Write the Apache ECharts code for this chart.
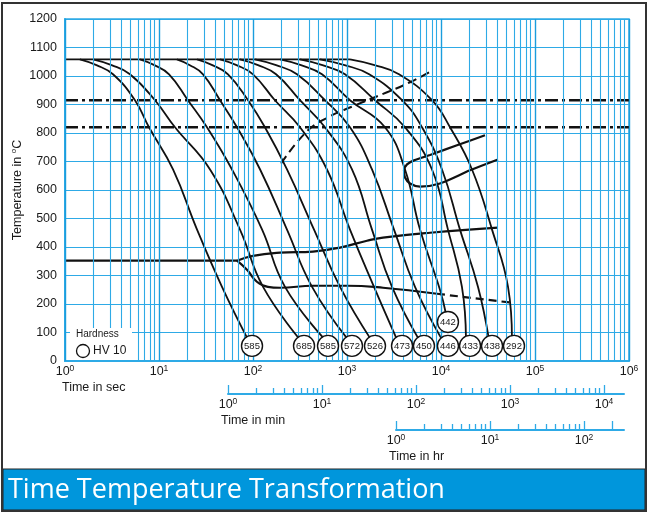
<!DOCTYPE html>
<html><head><meta charset="utf-8">
<script src="https://cdn.jsdelivr.net/npm/echarts@6/dist/echarts.min.js"></script>
<style>html,body{margin:0;padding:0;background:#fff;}#c{width:650px;height:515px;}</style>
</head><body><div id="c"></div>
<script>
const FONT = '"Liberation Sans", Arial, Helvetica, sans-serif';
const TXT = '#1a1a1a';
const BLUE = '#2eaae6';
const BLUE_MAJOR = '#1a9ddd';

// ---- axis tick values ----
const secDecades = [1, 10, 100, 1000, 10000, 100000, 1000000];
const gridMultipliers = [2, 3, 4, 5, 6, 7, 8, 9];
const minMajor = [1, 10, 100, 1000, 10000];
const minMinor = [2,3,4,5,6,7,8,9,20,30,40,50,60,70,80,90,200,300,400,500,600,700,800,900,2000,3000,4000,5000,6000,7000,8000,9000];
const hrMajor = [1, 10, 100, 200];
const hrLabels = [1, 10, 100];
const hrMinor = [2,3,4,5,6,7,8,9,20,30,40,50,60,70,80,90];
const minAxisMax = 16326;   // right end of the min scale
const hrAxisMax = 266.4;    // right end of the hr scale

// ---- data: [time in s, temperature in °C] ----
const austenitizing = [[1,1058],[1076,1058]];
const curve585a = [[1.44,1058],[2.16,1038],[3.24,1006],[5.55,915],[7.83,820],[14.1,672],[25.4,461],[46.8,260],[88.5,75]];
const curve685  = [[1.99,1058],[3.13,1038],[4.91,1006],[9.06,915],[14.8,820],[34.9,672],[72.7,461],[128,260],[316,75]];
const curve585b = [[6.28,1058],[8.93,1038],[12.8,1006],[20.3,915],[32.4,820],[59.8,672],[125,461],[219,260],[583,75]];
const curve572  = [[15.5,1058],[21.3,1038],[29.4,1006],[44.6,915],[67.6,820],[119,672],[230,461],[425,260],[1026,75]];
const curve526  = [[25.4,1058],[36.9,1038],[54.2,1006],[88.5,915],[134,820],[230,672],[446,461],[843,260],[1800,75]];
const curve473  = [[44.6,1058],[66.8,1038],[100,1006],[171,915],[316,820],[612,672],[1076,461],[1937,260],[3404,75]];
const curve450  = [[72.7,1058],[113,1038],[176,1006],[316,915],[583,820],[1130,672],[1845,461],[3013,260],[5834,75]];
const curve446  = [[105,1058],[176,1038],[294,1006],[583,915],[1076,820],[1845,672],[3162,461],[5290,260],[10250,75]];
const curve442  = [[194,1058],[324,1038],[542,1006],[1076,915],[2535,820],[4140,672],[5980,461],[9750,250],[11300,165]];
const curve433  = [[316,1058],[548,1038],[952,1006],[1985,915],[4140,820],[8020,672],[11860,461],[16700,260],[18450,75]];
const curve438  = [[516,1058],[943,1038],[1722,1006],[3850,915],[6280,820],[10250,672],[15920,461],[24770,260],[32400,75]];
const curve292  = [[1076,1058],[1966,1038],[3573,1006],[8020,915],[12470,820],[21370,672],[34910,461],[51640,260],[56900,75]];
const coolingCurves = [curve585a, curve685, curve585b, curve572, curve526, curve473, curve450, curve446, curve442, curve433, curve438, curve292];

const ac1e = [[1,915],[1000000,915]];
const ac1b = [[1,820],[1000000,820]];
const msLine = [[1,352],[67.6,352]];
const bainiteStart = [[67.6,352],[100,369],[194,380],[435,384],[843,398],[1632,422],[2415,433],[7640,450],[40400,468]];
const bainiteEnd = [[67.6,352],[86.3,320],[110,278],[144,260],[194,257],[435,264],[1000,264],[2415,257],[9060,236]];
const bainiteEndDashed = [[9060,236],[58300,204]];
const carbideLine = [[199,693],[375,806],[628,855],[1158,894],[2666,943],[4680,978],[8220,1020]];
const pearliteNose = [[29380,792],[14790,757],[7640,723],[5160,704],[4350,690],[4040,669],[4140,644],[4680,623],[5980,612],[9750,623],[20360,669],[40400,707]];

// hardness HV10 circles: [time, temp, value]
const hardness = [[97.6,53,'585'],[349,53,'685'],[628,53,'585'],[1130,53,'572'],[1985,53,'526'],[3850,53,'473'],[6590,53,'450'],[11860,53,'446'],[20360,53,'433'],[34910,53,'438'],[59800,53,'292'],[11860,137,'442']];

// annotations: [time, temp, text]
const leftLabels = [[1.08,654,'A + C'],[1.08,384,'M{sub|S}'],[1.08,252,'M'],[230000,946,'Ac{sub|1e}'],[230000,855,'Ac{sub|1b}']];
const regionLabels = [[4910,366,'B'],[14790,725,'P']];
const smallLabels = [[5290,637,'1'],[10000,654,'3'],[12470,665,'5'],[24770,700,'78'],
  [152,287,'5'],[260,287,'15'],[480,287,'30'],[906,287,'75'],[2244,285,'90'],[6440,264,'98'],[3660,220,'95'],
  [11860,248,'96'],[19860,238,'95'],[28650,236,'93'],[64350,227,'20']];

// ---- build ----
const supRich = {
  b: {fontSize: 12.5, lineHeight: 16, fontFamily: FONT, color: TXT},
  s: {fontSize: 8.5, lineHeight: 8, verticalAlign: 'top', fontFamily: FONT, color: TXT}
};
function pow10Label(v) { const e = Math.round(Math.log10(v)); return '{b|10}{s|' + e + '}'; }
const subRich = { sub: {fontSize: 9, lineHeight: 8, verticalAlign: 'bottom', fontFamily: FONT, color: TXT} };

const gridX = [];
secDecades.forEach(function (d, i) {
  gridX.push({xAxis: d, lineStyle: {color: BLUE_MAJOR, width: 1.4, type: 'solid'}});
  if (i < secDecades.length - 1) gridMultipliers.forEach(function (m) { gridX.push({xAxis: d * m}); });
});

function curve(data, extra) {
  return Object.assign({
    type: 'line', data: data, xAxisIndex: 0, yAxisIndex: 0, symbol: 'none', showSymbol: false,
    smooth: 0.45, silent: true, z: 3,
    lineStyle: {color: '#111', width: 1.8}
  }, extra || {});
}
function toItems(arr) { return arr.map(function (a) { return {value: [a[0], a[1]], name: a[2]}; }); }
function labelSeries(arr, label) {
  return {
    type: 'scatter', data: toItems(arr), symbolSize: 1, itemStyle: {opacity: 0}, silent: true, z: 6,
    label: Object.assign({show: true, position: 'inside', formatter: function (p) { return p.name; },
      color: TXT, fontFamily: FONT, rich: subRich}, label)
  };
}

const series = [];
series.push({
  type: 'line', data: [[1, 0]], symbol: 'none', showSymbol: false, silent: true, z: 1,
  lineStyle: {width: 0},
  markLine: {silent: true, symbol: ['none', 'none'], animation: false, label: {show: false},
    lineStyle: {color: BLUE, width: 1.1, type: 'solid'}, data: gridX}
});
series.push(curve(ac1e, {smooth: false, lineStyle: {color: '#111', width: 2.4, type: [13, 4, 3, 4]}}));
series.push(curve(ac1b, {smooth: false, lineStyle: {color: '#111', width: 2.4, type: [13, 4, 3, 4]}}));
series.push(curve(austenitizing, {smooth: false}));
coolingCurves.forEach(function (c) { series.push(curve(c)); });
series.push(curve(msLine, {smooth: false, lineStyle: {color: '#111', width: 2.2}}));
series.push(curve(bainiteStart, {lineStyle: {color: '#111', width: 2.2}}));
series.push(curve(bainiteEnd, {lineStyle: {color: '#111', width: 2.2}}));
series.push(curve(bainiteEndDashed, {smooth: false, lineStyle: {color: '#111', width: 2.2, type: [8, 5]}}));
series.push(curve(carbideLine, {lineStyle: {color: '#111', width: 2, type: [9, 5]}}));
series.push(curve(pearliteNose, {smooth: 0.3, lineStyle: {color: '#111', width: 2.2}}));
series.push({
  type: 'scatter', data: toItems(hardness), symbol: 'circle', symbolSize: 21, silent: true, z: 5,
  itemStyle: {color: '#fff', borderColor: '#111', borderWidth: 1.4, opacity: 1},
  label: {show: true, position: 'inside', formatter: function (p) { return p.name; }, fontSize: 9.5, color: TXT, fontFamily: FONT}
});
series.push(labelSeries(leftLabels, {align: 'left', verticalAlign: 'middle', fontSize: 13, lineHeight: 15}));
series.push(labelSeries(regionLabels, {align: 'center', verticalAlign: 'middle', fontSize: 13}));
series.push(labelSeries(smallLabels, {align: 'center', verticalAlign: 'middle', fontSize: 9.5}));

const tickStyle = {color: BLUE, width: 1.3};
const option = {
  animation: false,
  grid: [
    {left: 65, right: 21, top: 19, bottom: 154, show: true, borderColor: BLUE, borderWidth: 1.5, backgroundColor: 'transparent', containLabel: false, outerBoundsMode: 'none'},
    {left: 228, right: 26, top: 385, height: 9, containLabel: false, outerBoundsMode: 'none'},
    {left: 396, right: 26, top: 421, height: 9, containLabel: false, outerBoundsMode: 'none'}
  ],
  xAxis: [
    {type: 'log', logBase: 10, min: 1, max: 1000000, gridIndex: 0, splitNumber: 6,
      axisLine: {lineStyle: {color: BLUE, width: 2}}, axisTick: {show: false}, splitLine: {show: false},
      axisLabel: {customValues: secDecades, formatter: pow10Label, rich: supRich, margin: 3}},
    {type: 'log', logBase: 10, min: 1, max: minAxisMax, gridIndex: 1, position: 'bottom',
      axisLine: {lineStyle: {color: BLUE, width: 2}}, splitLine: {show: false},
      axisTick: {inside: true, length: 9, lineStyle: tickStyle, customValues: minMajor},
      axisLabel: {customValues: minMajor, formatter: pow10Label, rich: supRich, margin: 3}},
    {type: 'log', logBase: 10, min: 1, max: minAxisMax, gridIndex: 1, position: 'bottom',
      axisLine: {show: false}, splitLine: {show: false}, axisLabel: {show: false},
      axisTick: {inside: true, length: 6, lineStyle: tickStyle, customValues: minMinor}},
    {type: 'log', logBase: 10, min: 1, max: hrAxisMax, gridIndex: 2, position: 'bottom',
      axisLine: {lineStyle: {color: BLUE, width: 2}}, splitLine: {show: false},
      axisTick: {inside: true, length: 9, lineStyle: tickStyle, customValues: hrMajor},
      axisLabel: {customValues: hrLabels, formatter: pow10Label, rich: supRich, margin: 3}},
    {type: 'log', logBase: 10, min: 1, max: hrAxisMax, gridIndex: 2, position: 'bottom',
      axisLine: {show: false}, splitLine: {show: false}, axisLabel: {show: false},
      axisTick: {inside: true, length: 6, lineStyle: tickStyle, customValues: hrMinor}}
  ],
  yAxis: [
    {type: 'value', min: 0, max: 1200, interval: 100, gridIndex: 0,
      axisLine: {show: true, lineStyle: {color: BLUE, width: 2}}, axisTick: {show: false},
      splitLine: {lineStyle: {color: BLUE, width: 1.1}},
      axisLabel: {fontSize: 12.5, color: TXT, fontFamily: FONT, margin: 8, formatter: function (v) { return String(v); }}},
    {type: 'value', min: 0, max: 1, gridIndex: 1, show: false},
    {type: 'value', min: 0, max: 1, gridIndex: 2, show: false}
  ],
  series: series,
  graphic: [
    {type: 'rect', shape: {x: 3, y: 469, width: 642, height: 41}, style: {fill: '#0096dc', stroke: '#222', lineWidth: 1}, z: 90},
    {type: 'text', x: 8, y: 490, z: 95, style: {text: 'Time Temperature Transformation', fill: '#fff', font: '27px "Open Sans", "Noto Sans", sans-serif', textAlign: 'left', textVerticalAlign: 'middle', align: 'left', verticalAlign: 'middle'}},
    {type: 'rect', shape: {x: 2, y: 3, width: 644, height: 508}, style: {fill: 'none', stroke: '#333', lineWidth: 2}, z: 96},
    {type: 'text', x: 18, y: 190, rotation: Math.PI / 2, z: 81,
      style: {text: 'Temperature in {s|o}C', fill: TXT, font: '12.5px ' + FONT, fontSize: 12.5, fontFamily: FONT, lineHeight: 16,
        align: 'center', verticalAlign: 'middle', textAlign: 'center', textVerticalAlign: 'middle',
        rich: {s: {fontSize: 8, lineHeight: 8, verticalAlign: 'top', fontFamily: FONT, fill: TXT, color: TXT}}}},
    {type: 'rect', shape: {x: 70, y: 328, width: 62, height: 32}, style: {fill: '#fff'}, z: 80},
    {type: 'text', x: 76, y: 334, z: 81, style: {text: 'Hardness', fill: TXT, font: '10px ' + FONT, textVerticalAlign: 'middle', verticalAlign: 'middle'}},
    {type: 'circle', shape: {cx: 83, cy: 351, r: 6.5}, style: {fill: '#fff', stroke: '#111', lineWidth: 1.3}, z: 81},
    {type: 'text', x: 93, y: 351, z: 81, style: {text: 'HV 10', fill: TXT, font: '12px ' + FONT, textVerticalAlign: 'middle', verticalAlign: 'middle'}},
    {type: 'text', x: 62, y: 388, z: 81, style: {text: 'Time in sec', fill: TXT, font: '12.5px ' + FONT, textVerticalAlign: 'middle', verticalAlign: 'middle'}},
    {type: 'text', x: 221, y: 421, z: 81, style: {text: 'Time in min', fill: TXT, font: '12.5px ' + FONT, textVerticalAlign: 'middle', verticalAlign: 'middle'}},
    {type: 'text', x: 389, y: 457, z: 81, style: {text: 'Time in hr', fill: TXT, font: '12.5px ' + FONT, textVerticalAlign: 'middle', verticalAlign: 'middle'}}
  ]
};
const chart = echarts.init(document.getElementById('c'), null, {renderer: 'canvas', width: 650, height: 515});
chart.setOption(option);
</script></body></html>
